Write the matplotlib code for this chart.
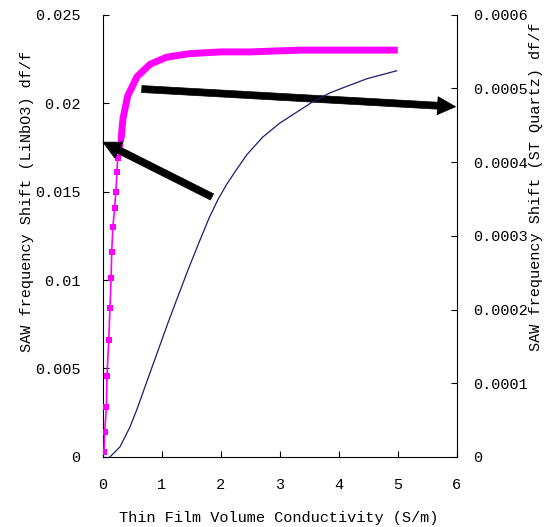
import matplotlib
matplotlib.use("Agg")
import matplotlib.pyplot as plt
from matplotlib.ticker import FuncFormatter, MultipleLocator

# LiNbO3 curve (left axis)
linbo3_x = [0.02, 0.03, 0.06, 0.07, 0.10, 0.12, 0.14, 0.15, 0.17, 0.20,
            0.22, 0.24, 0.25, 0.29, 0.31,
            0.34, 0.42, 0.58, 0.80, 1.08, 1.47, 2.00, 2.50, 3.34, 4.20, 5.00]
linbo3_y = [0.0003, 0.0014, 0.0028, 0.0046, 0.0066, 0.0084, 0.0101, 0.0116, 0.0130, 0.0141,
            0.0150, 0.0161, 0.0169, 0.0175, 0.0180,
            0.0191, 0.0204, 0.0215, 0.0222, 0.0226, 0.0228, 0.0229, 0.0229, 0.0230, 0.0230, 0.0230]
n_sparse = 15  # markers are visible one by one only at the start

# ST Quartz curve (right axis)
quartz_x = [0.12, 0.29, 0.46, 0.58, 0.70, 0.83, 0.97, 1.10, 1.25, 1.45, 1.64, 1.80,
            1.95, 2.10, 2.25, 2.44, 2.71, 3.00, 3.29, 3.56, 3.85, 4.14, 4.47, 4.98]
quartz_y = [0.0, 1.36e-5, 4.07e-5, 6.5e-5, 9.2e-5, 1.21e-4, 1.52e-4, 1.81e-4, 2.13e-4,
            2.55e-4, 2.93e-4, 3.24e-4, 3.49e-4, 3.70e-4, 3.88e-4, 4.10e-4, 4.34e-4,
            4.53e-4, 4.68e-4, 4.82e-4, 4.94e-4, 5.03e-4, 5.13e-4, 5.24e-4]

plt.rcParams["font.family"] = "Liberation Mono"

fig = plt.figure(figsize=(5.53, 5.27), dpi=100)
ax = fig.add_axes([0.186, 0.133, 0.640, 0.839])
ax2 = ax.twinx()

pink = "#ff00ff"
ax.plot(linbo3_x[:n_sparse + 1], linbo3_y[:n_sparse + 1], color=pink, lw=1.2,
        marker="s", markersize=4.5, markeredgewidth=0, zorder=3)
ax.plot(linbo3_x[n_sparse - 1:], linbo3_y[n_sparse - 1:], color=pink, lw=5,
        solid_capstyle="butt", solid_joinstyle="round", zorder=3)

ax2.plot(quartz_x, quartz_y, color="#1c1c70", lw=0.9)

ax.set_xlim(0, 6)
ax.set_ylim(0, 0.025)
ax2.set_ylim(0, 0.0006)
ax.xaxis.set_major_locator(MultipleLocator(1))
ax.yaxis.set_major_locator(MultipleLocator(0.005))
ax2.yaxis.set_major_locator(MultipleLocator(0.0001))
fmt = FuncFormatter(lambda v, p: "%g" % round(v, 6))
ax.yaxis.set_major_formatter(fmt)
ax2.yaxis.set_major_formatter(fmt)

for s in ["top", "right"]:
    ax.spines[s].set_visible(False)
for s in ["top", "left", "bottom"]:
    ax2.spines[s].set_visible(False)

ax.tick_params(axis="x", direction="in", length=4, pad=15, labelsize=11)
ax.tick_params(axis="y", direction="in", length=4, pad=16, labelsize=11)
ax2.tick_params(axis="y", direction="in", length=4, pad=12, labelsize=11)

ax.set_xlabel("Thin Film Volume Conductivity (S/m)", fontsize=11)
ax.xaxis.set_label_coords(0.497, -0.122)
ax.set_ylabel("SAW frequency Shift (LiNbO3) df/f", fontsize=11)
ax.yaxis.set_label_coords(-0.195, 0.577)
ax2.set_ylabel("SAW frequency Shift (ST Quartz) df/f", fontsize=11)
ax2.yaxis.set_label_coords(1.205, 0.61)

arrow = dict(arrowstyle="simple,head_length=1.3,head_width=1.3,tail_width=0.5",
             mutation_scale=10, color="black", lw=0.5, shrinkA=0, shrinkB=0)
ax.annotate("", xy=(0.0, 0.0178), xytext=(1.85, 0.0147),
            arrowprops=arrow, annotation_clip=False)
ax.annotate("", xy=(5.98, 0.0198), xytext=(0.66, 0.0208),
            arrowprops=arrow, annotation_clip=False)

fig.savefig("out.png", dpi=100)
